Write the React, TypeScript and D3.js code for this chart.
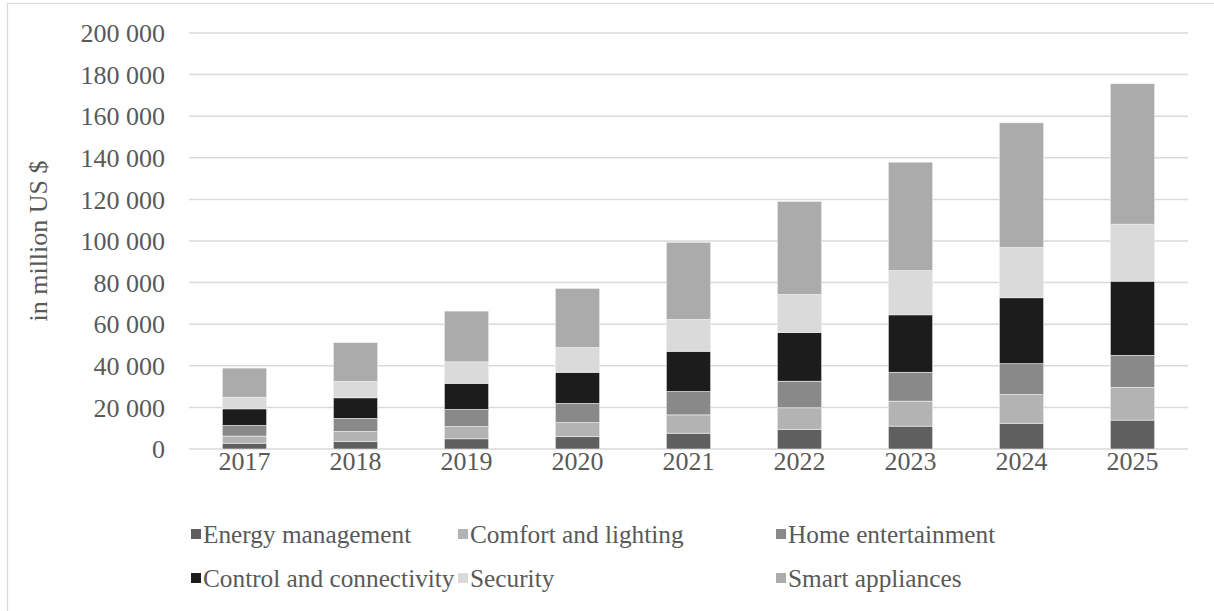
import React from "react";
import * as d3 from "d3";

const years = ["2017", "2018", "2019", "2020", "2021", "2022", "2023", "2024", "2025"];
const seriesNames = [
  "Energy management",
  "Comfort and lighting",
  "Home entertainment",
  "Control and connectivity",
  "Security",
  "Smart appliances",
];
const energy = [2800, 3600, 4900, 5900, 7600, 9500, 11000, 12400, 13900];
const comfort = [3400, 4800, 5900, 6800, 8800, 10300, 12000, 13800, 15700];
const home = [5100, 6300, 8200, 9200, 11200, 12800, 13900, 14800, 15400];
const control = [8000, 9900, 12600, 15000, 19400, 23400, 27600, 31700, 35700];
const security = [5600, 7900, 10300, 11900, 15300, 18300, 21300, 24200, 27400];
const smart = [14000, 18600, 24400, 28400, 37100, 44700, 52100, 59900, 67500];
const yTicks = [0, 20000, 40000, 60000, 80000, 100000, 120000, 140000, 160000, 180000, 200000];
const colors = ["#5f5f5f", "#b3b3b3", "#898989", "#1c1c1c", "#dadada", "#ababab"];

const W = 1214;
const H = 611;
const left = 189;
const right = 1188;
const top = 33;
const bottom = 449;
const font = "'Liberation Serif', 'Times New Roman', serif";
const textColor = "#595959";
const fs = 26;
const legendFs = 25.3;

export default function App() {
  const values = [energy, comfort, home, control, security, smart];
  const rows = years.map((y, i) => {
    const r: any = { year: y };
    seriesNames.forEach((s, k) => (r[s] = values[k][i]));
    return r;
  });
  const stacked = d3.stack<any>().keys(seriesNames)(rows);
  const x = d3.scaleBand<string>().domain(years).range([left, right]).paddingInner(0.6).paddingOuter(0.3);
  const y = d3.scaleLinear().domain([0, 200000]).range([bottom, top]);
  const fmt = (v: number) => d3.format(",")(v).replace(/,/g, " ");

  const legendCols = [191, 458, 776];
  const legendRows = [534, 578];

  return (
    <svg width={W} height={H} style={{ position: "absolute", left: 0, top: 0, background: "#fff" }} fontFamily={font}>
      <rect x={7.5} y={3.5} width={1400} height={800} fill="#fff" stroke="#d9d9d9" strokeWidth={1.2} />
      {yTicks.map((t) => (
        <g key={t}>
          <line x1={left} x2={right} y1={y(t)} y2={y(t)} stroke="#d9d9d9" strokeWidth={1.5} />
          <text x={165} y={y(t)} dy="0.35em" textAnchor="end" fontSize={fs} fill={textColor}>
            {fmt(t)}
          </text>
        </g>
      ))}
      {stacked.map((s, k) => (
        <g key={s.key} fill={colors[k]}>
          {s.map((d, i) => (
            <rect
              key={i}
              x={x(years[i])}
              width={x.bandwidth()}
              y={y(d[1])}
              height={y(d[0]) - y(d[1])}
              stroke="#f2f2f2"
              strokeWidth={0.6}
            />
          ))}
        </g>
      ))}
      {years.map((yr) => (
        <text key={yr} x={(x(yr) as number) + x.bandwidth() / 2} y={470} textAnchor="middle" fontSize={fs} fill={textColor}>
          {yr}
        </text>
      ))}
      <text
        transform={`translate(47, ${(top + bottom) / 2}) rotate(-90)`}
        textAnchor="middle"
        fontSize={fs}
        fill={textColor}
      >
        in million US $
      </text>
      {seriesNames.map((s, k) => {
        const cx = legendCols[k % 3];
        const cy = legendRows[Math.floor(k / 3)];
        return (
          <g key={s}>
            <rect x={cx} y={cy - 5} width={10} height={10} fill={colors[k]} />
            <text x={cx + 12} y={cy} dy="0.35em" fontSize={legendFs} fill={textColor}>
              {s}
            </text>
          </g>
        );
      })}
    </svg>
  );
}
